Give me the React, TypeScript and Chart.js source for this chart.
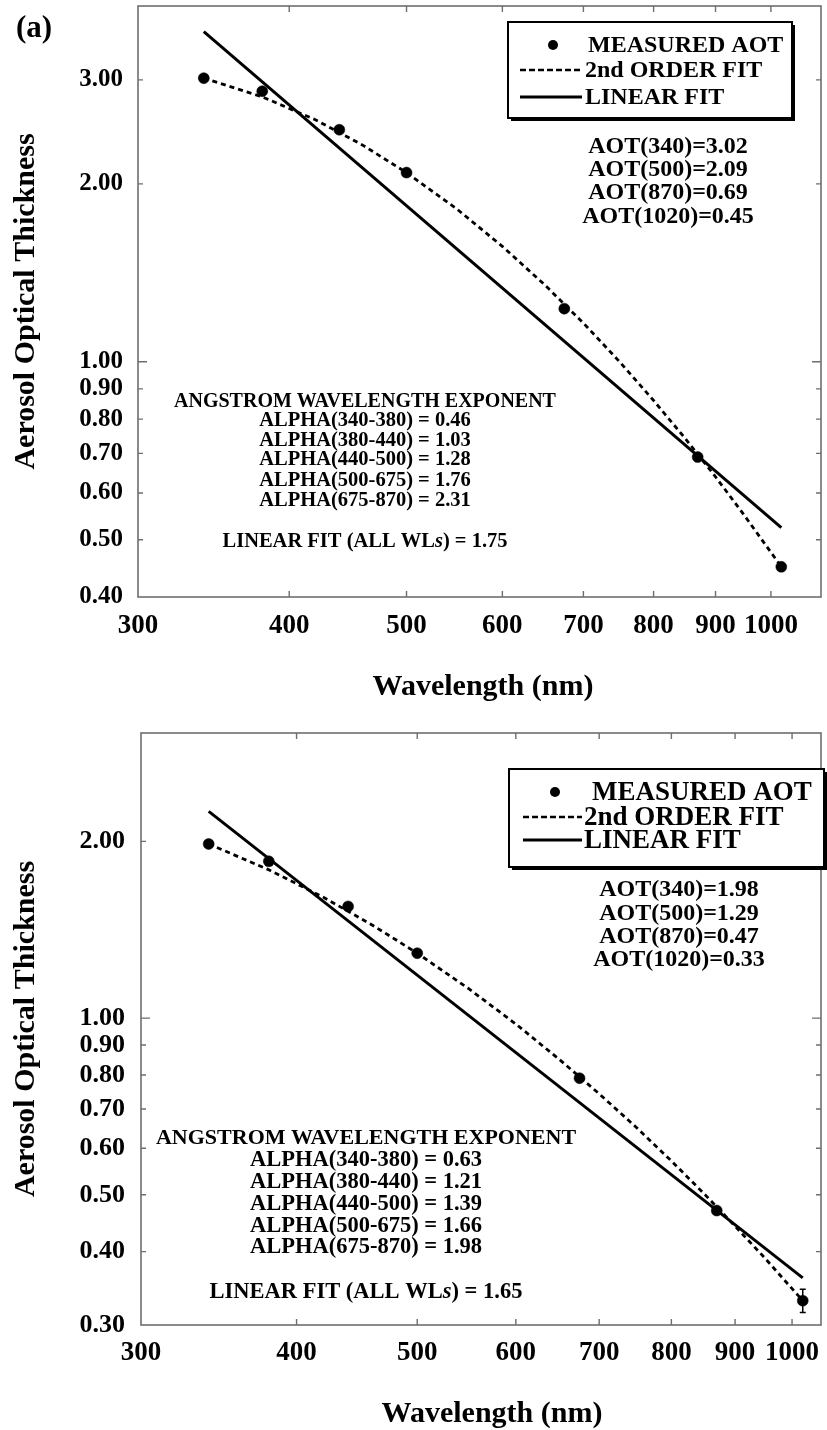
import React, { useEffect, useRef } from 'react';
import { Chart, registerables } from 'chart.js';

Chart.register(...registerables);

// ---------------- data ----------------
const WAVELENGTHS = [340, 380, 440, 500, 675, 870, 1020];
const AOT_A = [3.02, 2.87, 2.47, 2.09, 1.23, 0.69, 0.45];
const AOT_B = [1.98, 1.85, 1.55, 1.29, 0.79, 0.47, 0.33];
const ERR_A = [0, 0, 0, 0, 0, 0, 0];
const ERR_B = [0, 0, 0, 0, 0, 0, 0.015];

const FIT_WL = [340, 380, 420, 460, 500, 550, 600, 650, 700, 750, 800, 850, 900, 950, 1020];
const FIT2_A = [3.02, 2.808, 2.57, 2.326, 2.09, 1.815, 1.568, 1.351, 1.163, 1.0, 0.86, 0.741, 0.639, 0.551, 0.45];
const FIT2_B = [1.98, 1.789, 1.608, 1.441, 1.29, 1.122, 0.977, 0.851, 0.743, 0.651, 0.571, 0.502, 0.442, 0.391, 0.33];

const LIN_WL = [340, 1020];
const LIN_A = [3.62, 0.524];
const LIN_B = [2.25, 0.361];

const X_TICKS = [300, 400, 500, 600, 700, 800, 900, 1000];
const Y_TICKS_A = [0.4, 0.5, 0.6, 0.7, 0.8, 0.9, 1.0, 2.0, 3.0];
const Y_TICKS_B = [0.3, 0.4, 0.5, 0.6, 0.7, 0.8, 0.9, 1.0, 2.0];

const LEGEND_LABELS = ['MEASURED AOT', '2nd ORDER FIT', 'LINEAR FIT'];
const AOT_LABELS_A = ['AOT(340)=3.02', 'AOT(500)=2.09', 'AOT(870)=0.69', 'AOT(1020)=0.45'];
const AOT_LABELS_B = ['AOT(340)=1.98', 'AOT(500)=1.29', 'AOT(870)=0.47', 'AOT(1020)=0.33'];
const ANGSTROM_TITLE = 'ANGSTROM WAVELENGTH EXPONENT';
const ALPHA_LABELS_A = [
  'ALPHA(340-380) = 0.46',
  'ALPHA(380-440) = 1.03',
  'ALPHA(440-500) = 1.28',
  'ALPHA(500-675) = 1.76',
  'ALPHA(675-870) = 2.31',
];
const ALPHA_LABELS_B = [
  'ALPHA(340-380) = 0.63',
  'ALPHA(380-440) = 1.21',
  'ALPHA(440-500) = 1.39',
  'ALPHA(500-675) = 1.66',
  'ALPHA(675-870) = 1.98',
];
const LINEAR_ALL_A = '1.75';
const LINEAR_ALL_B = '1.65';
const X_TITLE = 'Wavelength (nm)';
const Y_TITLE = 'Aerosol Optical Thickness';
const PANEL_LABEL_A = '(a)';

// ---------------- layout / style ----------------
const FAMILY = '"Liberation Serif", "Times New Roman", serif';
const FRAME = '#6e6e6e';
const W = 827;
const H = 715;

type Spec = {
  aot: number[];
  err: number[];
  fit2: number[];
  lin: number[];
  xMax: number;
  yMin: number;
  yMax: number;
  yTicks: number[];
  padRight: number;
  padTop: number;
  yWidth: number;
  xHeight: number;
  xTickPad: number;
  yTickPad: number;
  xTickFont: number;
  yTickFont: number;
  panelLabel: string | null;
  yTitleX: number;
  xTitleX: number;
  xTitleY: number;
  legend: { x: number; y: number; w: number; h: number; markerX: number; rows: number[]; textX: number[]; s0: number; s1: number; font: number };
  aotLabels: string[];
  aotX: number;
  aotY: number[];
  aotFont: number;
  angX: number;
  angY: number;
  angFont: number;
  alphaLabels: string[];
  alphaY: number[];
  alphaFont: number;
  linearAll: string;
  linearY: number;
};

const SPEC_A: Spec = {
  aot: AOT_A,
  err: ERR_A,
  fit2: FIT2_A,
  lin: LIN_A,
  xMax: 1100,
  yMin: 0.4,
  yMax: 4.0,
  yTicks: Y_TICKS_A,
  padRight: 4,
  padTop: 5,
  yWidth: 138,
  xHeight: 118,
  xTickPad: 13,
  yTickPad: 15,
  xTickFont: 27,
  yTickFont: 25,
  panelLabel: PANEL_LABEL_A,
  yTitleX: 34,
  xTitleX: 483,
  xTitleY: 695,
  legend: { x: 508, y: 22, w: 284, h: 96, markerX: 553, rows: [45, 70, 97], textX: [588, 585, 585], s0: 520, s1: 582, font: 24 },
  aotLabels: AOT_LABELS_A,
  aotX: 668,
  aotY: [147, 170, 193, 217],
  aotFont: 24,
  angX: 365,
  angY: 402,
  angFont: 20,
  alphaLabels: ALPHA_LABELS_A,
  alphaY: [421, 441, 460, 481, 501],
  alphaFont: 20.5,
  linearAll: LINEAR_ALL_A,
  linearY: 542,
};

const SPEC_B: Spec = {
  aot: AOT_B,
  err: ERR_B,
  fit2: FIT2_B,
  lin: LIN_B,
  xMax: 1055,
  yMin: 0.3,
  yMax: 3.06,
  yTicks: Y_TICKS_B,
  padRight: 2,
  padTop: 18,
  yWidth: 141,
  xHeight: 105,
  xTickPad: 12,
  yTickPad: 16,
  xTickFont: 27,
  yTickFont: 26,
  panelLabel: null,
  yTitleX: 34,
  xTitleX: 492,
  xTitleY: 707,
  legend: { x: 509, y: 54, w: 315, h: 98, markerX: 555, rows: [77, 102, 125], textX: [592, 584, 584], s0: 523, s1: 582, font: 27 },
  aotLabels: AOT_LABELS_B,
  aotX: 679,
  aotY: [175, 199, 222, 245],
  aotFont: 24,
  angX: 366,
  angY: 423,
  angFont: 22,
  alphaLabels: ALPHA_LABELS_B,
  alphaY: [445, 467, 489, 511, 532],
  alphaFont: 22.5,
  linearAll: LINEAR_ALL_B,
  linearY: 577,
};

function font(size: number, italic = false) {
  return `${italic ? 'italic ' : ''}bold ${size}px ${FAMILY}`;
}

function drawText(ctx: CanvasRenderingContext2D, s: string, x: number, y: number, size: number, align: CanvasTextAlign = 'center', baseline: CanvasTextBaseline = 'middle') {
  ctx.font = font(size);
  ctx.textAlign = align;
  ctx.textBaseline = baseline;
  ctx.fillStyle = '#000';
  ctx.fillText(s, x, y);
}

function makePlugin(spec: Spec) {
  return {
    id: 'decor',
    beforeDatasetsDraw(chart: any) {
      const { ctx, chartArea: a, scales } = chart;
      const xs = scales.x;
      const ys = scales.y;
      ctx.save();
      ctx.strokeStyle = FRAME;
      ctx.lineWidth = 1.6;
      ctx.strokeRect(a.left, a.top, a.right - a.left, a.bottom - a.top);
      ctx.lineWidth = 1.4;
      ctx.beginPath();
      X_TICKS.forEach((v) => {
        if (v <= 300) return;
        const px = xs.getPixelForValue(v);
        ctx.moveTo(px, a.bottom);
        ctx.lineTo(px, a.bottom - 6);
        ctx.moveTo(px, a.top);
        ctx.lineTo(px, a.top + 6);
      });
      spec.yTicks.forEach((v) => {
        if (v <= spec.yMin) return;
        const py = ys.getPixelForValue(v);
        const len = v === 1 ? 9 : 5;
        ctx.moveTo(a.left, py);
        ctx.lineTo(a.left + len, py);
        ctx.moveTo(a.right, py);
        ctx.lineTo(a.right - len, py);
      });
      ctx.stroke();
      ctx.restore();
    },
    afterDatasetsDraw(chart: any) {
      const { ctx, scales } = chart;
      ctx.save();
      ctx.strokeStyle = '#000';
      ctx.lineWidth = 1.5;
      spec.err.forEach((e, i) => {
        if (!e) return;
        const px = scales.x.getPixelForValue(WAVELENGTHS[i]);
        const y1 = scales.y.getPixelForValue(spec.aot[i] - e);
        const y2 = scales.y.getPixelForValue(spec.aot[i] + e);
        ctx.beginPath();
        ctx.moveTo(px, y1);
        ctx.lineTo(px, y2);
        ctx.moveTo(px - 3, y1);
        ctx.lineTo(px + 3, y1);
        ctx.moveTo(px - 3, y2);
        ctx.lineTo(px + 3, y2);
        ctx.stroke();
      });
      ctx.restore();
    },
    afterDraw(chart: any) {
      const { ctx, chartArea: a } = chart;
      ctx.save();
      // panel label
      if (spec.panelLabel) drawText(ctx, spec.panelLabel, 34, 29, 31);
      // y title
      ctx.save();
      ctx.translate(spec.yTitleX, (a.top + a.bottom) / 2);
      ctx.rotate(-Math.PI / 2);
      drawText(ctx, Y_TITLE, 0, 0, 30, 'center', 'alphabetic');
      ctx.restore();
      // x title
      drawText(ctx, X_TITLE, spec.xTitleX, spec.xTitleY, 30, 'center', 'alphabetic');

      // legend
      const L = spec.legend;
      ctx.fillStyle = '#000';
      ctx.fillRect(L.x + 3, L.y + 3, L.w, L.h);
      ctx.fillStyle = '#fff';
      ctx.fillRect(L.x, L.y, L.w, L.h);
      ctx.strokeStyle = '#000';
      ctx.lineWidth = 2;
      ctx.strokeRect(L.x, L.y, L.w, L.h);
      ctx.fillStyle = '#000';
      ctx.beginPath();
      ctx.arc(L.markerX, L.rows[0], 5, 0, Math.PI * 2);
      ctx.fill();
      ctx.lineWidth = 2.5;
      ctx.setLineDash([6, 3]);
      ctx.beginPath();
      ctx.moveTo(L.s0, L.rows[1]);
      ctx.lineTo(L.s1, L.rows[1]);
      ctx.stroke();
      ctx.setLineDash([]);
      ctx.lineWidth = 2.8;
      ctx.beginPath();
      ctx.moveTo(L.s0, L.rows[2]);
      ctx.lineTo(L.s1, L.rows[2]);
      ctx.stroke();
      LEGEND_LABELS.forEach((s, i) => drawText(ctx, s, L.textX[i], L.rows[i] + 1, L.font, 'left', 'middle'));

      // AOT values
      spec.aotLabels.forEach((s, i) => drawText(ctx, s, spec.aotX, spec.aotY[i], spec.aotFont));

      // Angstrom block
      drawText(ctx, ANGSTROM_TITLE, spec.angX, spec.angY, spec.angFont);
      spec.alphaLabels.forEach((s, i) => drawText(ctx, s, spec.angX, spec.alphaY[i], spec.alphaFont));

      // linear fit line with italic "s"
      const runs: [string, boolean][] = [['LINEAR FIT (ALL WL', false], ['s', true], [') = ' + spec.linearAll, false]];
      let total = 0;
      const widths = runs.map(([s, it]) => {
        ctx.font = font(spec.alphaFont, it);
        const w = ctx.measureText(s).width;
        total += w;
        return w;
      });
      let cx = spec.angX - total / 2;
      ctx.textAlign = 'left';
      ctx.textBaseline = 'middle';
      ctx.fillStyle = '#000';
      runs.forEach(([s, it], i) => {
        ctx.font = font(spec.alphaFont, it);
        ctx.fillText(s, cx, spec.linearY);
        cx += widths[i];
      });
      ctx.restore();
    },
  };
}

function buildConfig(spec: Spec): any {
  return {
    type: 'scatter',
    data: {
      datasets: [
        {
          label: LEGEND_LABELS[0],
          data: WAVELENGTHS.map((x, i) => ({ x, y: spec.aot[i] })),
          showLine: false,
          pointRadius: 5.5,
          pointBackgroundColor: '#000',
          pointBorderColor: '#000',
          pointBorderWidth: 0.5,
          order: 0,
        },
        {
          label: LEGEND_LABELS[1],
          data: FIT_WL.map((x, i) => ({ x, y: spec.fit2[i] })),
          showLine: true,
          pointRadius: 0,
          borderColor: '#000',
          borderWidth: 2.8,
          borderDash: [5, 4],
          tension: 0,
          order: 1,
        },
        {
          label: LEGEND_LABELS[2],
          data: LIN_WL.map((x, i) => ({ x, y: spec.lin[i] })),
          showLine: true,
          pointRadius: 0,
          borderColor: '#000',
          borderWidth: 3,
          order: 2,
        },
      ],
    },
    options: {
      animation: false,
      responsive: false,
      devicePixelRatio: 1,
      events: [],
      layout: { padding: { left: 0, right: spec.padRight, top: spec.padTop, bottom: 0 } },
      plugins: { legend: { display: false }, tooltip: { enabled: false }, title: { display: false } },
      scales: {
        x: {
          type: 'logarithmic',
          min: 300,
          max: spec.xMax,
          grid: { display: false, drawTicks: false },
          border: { display: false },
          afterBuildTicks: (s: any) => {
            s.ticks = X_TICKS.map((v) => ({ value: v }));
          },
          afterFit: (s: any) => {
            s.height = spec.xHeight;
            s.paddingLeft = 0;
            s.paddingRight = 0;
          },
          ticks: {
            font: { family: FAMILY, size: spec.xTickFont, weight: 'bold' },
            color: '#000',
            padding: spec.xTickPad,
            maxRotation: 0,
            minRotation: 0,
            autoSkip: false,
            callback: (v: any) => String(v),
          },
        },
        y: {
          type: 'logarithmic',
          min: spec.yMin,
          max: spec.yMax,
          grid: { display: false, drawTicks: false },
          border: { display: false },
          afterBuildTicks: (s: any) => {
            s.ticks = spec.yTicks.map((v) => ({ value: v }));
          },
          afterFit: (s: any) => {
            s.width = spec.yWidth;
            s.paddingTop = 0;
            s.paddingBottom = 0;
          },
          ticks: {
            font: { family: FAMILY, size: spec.yTickFont, weight: 'bold' },
            color: '#000',
            padding: spec.yTickPad,
            autoSkip: false,
            callback: (v: any) => Number(v).toFixed(2),
          },
        },
      },
    },
    plugins: [makePlugin(spec)],
  };
}

function Panel({ spec, top }: { spec: Spec; top: number }) {
  const ref = useRef<HTMLCanvasElement>(null);
  useEffect(() => {
    if (!ref.current) return;
    const chart = new Chart(ref.current, buildConfig(spec));
    return () => chart.destroy();
  }, [spec]);
  return (
    <canvas
      ref={ref}
      width={W}
      height={H}
      style={{ position: 'absolute', left: 0, top, width: W, height: H, display: 'block' }}
    />
  );
}

export default function App() {
  return (
    <div style={{ position: 'absolute', left: 0, top: 0, width: W, height: 1430, background: '#fff', overflow: 'hidden' }}>
      <Panel spec={SPEC_A} top={0} />
      <Panel spec={SPEC_B} top={715} />
    </div>
  );
}
